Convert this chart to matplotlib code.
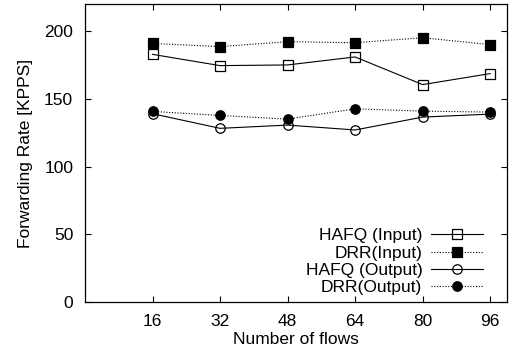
import numpy as np
import matplotlib as mpl
import matplotlib.pyplot as plt
mpl.use("Agg")

plt.rcParams['font.family'] = ['Liberation Sans', 'DejaVu Sans']

flows = [16, 32, 48, 64, 80, 96]
hafq_input = [182.8, 174.5, 175.0, 180.9, 160.5, 168.6]
drr_input = [190.9, 188.5, 192.2, 191.4, 195.1, 190.0]
hafq_output = [139.0, 128.2, 130.6, 127.0, 136.5, 138.7]
drr_output = [140.7, 137.7, 135.0, 142.6, 140.9, 140.2]

series = [
    (hafq_input, "s", "none", "-", "HAFQ (Input)", 7.2),
    (drr_input, "s", "black", (0, (1, 1.5)), "DRR(Input)", 7.2),
    (hafq_output, "o", "none", "-", "HAFQ (Output)", 6.8),
    (drr_output, "o", "black", (0, (1, 1.5)), "DRR(Output)", 6.8),
]

fs = 12.5
fig = plt.figure(figsize=(5.2, 3.56), dpi=100)
ax = fig.add_axes([0.1635, 0.1517, 0.8115, 0.8371])
for vals, m, fc, ls, name, ms in series:
    ax.plot(flows, vals, color="black", linestyle=ls, linewidth=0.8,
            marker=m, markerfacecolor=fc, markeredgecolor="black",
            markeredgewidth=0.9, markersize=ms, label=name)

ax.set_xlim(0, 100)
ax.set_ylim(0, 220)
ax.set_xticks(flows)
ax.set_yticks([0, 50, 100, 150, 200])
ax.tick_params(direction="in", length=4, width=0.8, top=True, right=True,
               labelsize=fs)
ax.tick_params(axis="y", pad=8.5)
ax.tick_params(axis="x", pad=9)
for s in ax.spines.values():
    s.set_linewidth(0.9)

ax.set_xlabel("Number of flows", fontsize=fs, labelpad=2)
ax.set_ylabel("Forwarding Rate [KPPS]", fontsize=fs, labelpad=8)

ax.legend(loc="lower right", bbox_to_anchor=(0.964, -0.006), frameon=False,
          markerfirst=False, fontsize=fs, handlelength=3.0, handletextpad=0.5,
          borderpad=0, labelspacing=0.12)

plt.savefig("out.png", dpi=100)
